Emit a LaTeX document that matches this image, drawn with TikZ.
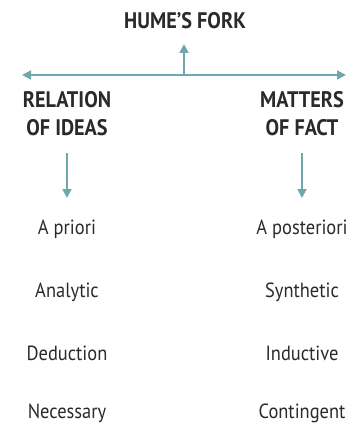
\documentclass[tikz,border=0pt]{standalone}
\usepackage{fontspec}
\setmainfont{PT Sans}[FakeStretch=0.9]
\usetikzlibrary{arrows.meta}
\definecolor{forkteal}{HTML}{6FA7AE}
\definecolor{inkgray}{HTML}{2A2A2A}
\begin{document}
\begin{tikzpicture}[x=1pt,y=-1pt,
  conn/.style={draw=forkteal,line width=1.8pt,-{Triangle[length=9pt,width=9pt]}},
  head/.style={font=\bfseries\fontsize{22.5}{28}\selectfont,text=inkgray,align=center,inner sep=0pt},
  item/.style={font=\fontsize{20.5}{24}\selectfont,text=inkgray,inner sep=0pt}]
\useasboundingbox (0,0) rectangle (363,444);
% title and the fork
\node[head,font=\bfseries\fontsize{22.5}{26}\selectfont] (title) at (185,21) {HUME'S FORK};
\coordinate (mid) at (184,75);
\coordinate (leftend) at (22,75);
\coordinate (rightend) at (346,75);
\coordinate (up) at (184,44);
\draw[conn] (mid) -- (leftend);
\draw[conn] (mid) -- (rightend);
\draw[conn] (mid) -- (up);
% two branches
\node[head] (rel) at (67,114) {RELATION\\OF IDEAS};
\node[head] (mat) at (302,114) {MATTERS\\OF FACT};
\coordinate (relfoot) at (67,198);
\coordinate (matfoot) at (302,198);
\draw[conn] (67,153) -- (relfoot);
\draw[conn] (302,153) -- (matfoot);
% properties of each branch
\node[item] (a1) at (67,229) {A priori};
\node[item] (a2) at (67,292) {Analytic};
\node[item] (a3) at (67,353) {Deduction};
\node[item] (a4) at (67,413) {Necessary};
\node[item] (b1) at (302,229) {A posteriori};
\node[item] (b2) at (302,292) {Synthetic};
\node[item] (b3) at (302,353) {Inductive};
\node[item] (b4) at (302,413) {Contingent};
\end{tikzpicture}
\end{document}
